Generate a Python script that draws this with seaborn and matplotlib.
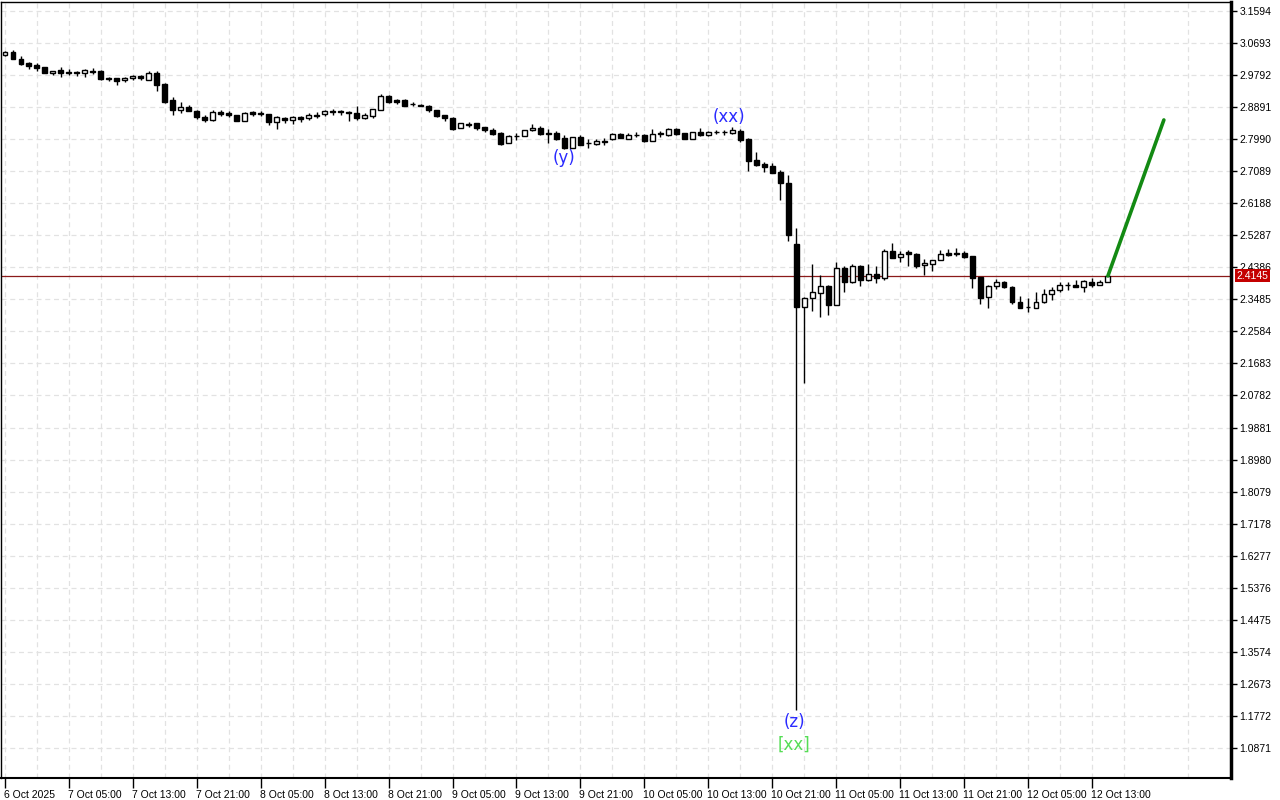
import numpy as np
import pandas as pd
import matplotlib
matplotlib.use("Agg")
import matplotlib.pyplot as plt
import matplotlib.transforms as mtransforms
import seaborn as sns

# ---------------- data (hourly candles, 6 Oct 21:00 -> 12 Oct 15:00) ----------------
opens = [3.036, 3.044, 3.024, 3.013, 3.008, 3.002, 2.985, 2.994, 2.988, 2.987,
         2.985, 2.991, 2.991, 2.971, 2.971, 2.964, 2.971, 2.977, 2.965, 2.985,
         2.954, 2.909, 2.881, 2.889, 2.878, 2.861, 2.853, 2.875, 2.872, 2.867,
         2.850, 2.875, 2.872, 2.870, 2.847, 2.858, 2.853, 2.861, 2.858, 2.868,
         2.870, 2.878, 2.877, 2.875, 2.872, 2.858, 2.864, 2.881, 2.920, 2.909,
         2.909, 2.898, 2.894, 2.892, 2.881, 2.867, 2.858, 2.830, 2.841, 2.844,
         2.833, 2.825, 2.816, 2.788, 2.807, 2.808, 2.825, 2.830, 2.816, 2.816,
         2.802, 2.774, 2.805, 2.788, 2.785, 2.792, 2.799, 2.813, 2.799, 2.811,
         2.811, 2.794, 2.813, 2.811, 2.827, 2.816, 2.799, 2.819, 2.811, 2.819,
         2.819, 2.816, 2.822, 2.799, 2.740, 2.729, 2.724, 2.707, 2.676, 2.504,
         2.327, 2.352, 2.366, 2.386, 2.333, 2.437, 2.397, 2.442, 2.403, 2.420,
         2.409, 2.484, 2.468, 2.482, 2.476, 2.445, 2.448, 2.459, 2.479, 2.479,
         2.479, 2.470, 2.411, 2.355, 2.386, 2.397, 2.383, 2.341, 2.327, 2.324,
         2.341, 2.364, 2.375, 2.389, 2.389, 2.383, 2.397, 2.389, 2.397]
highs = [3.047, 3.050, 3.033, 3.016, 3.013, 3.002, 2.991, 3.002, 2.996, 2.991,
         2.996, 2.999, 2.994, 2.974, 2.971, 2.974, 2.979, 2.979, 2.991, 2.991,
         2.957, 2.918, 2.904, 2.895, 2.881, 2.867, 2.881, 2.881, 2.878, 2.867,
         2.875, 2.878, 2.878, 2.870, 2.864, 2.861, 2.864, 2.864, 2.872, 2.875,
         2.881, 2.884, 2.881, 2.878, 2.892, 2.872, 2.884, 2.926, 2.923, 2.912,
         2.912, 2.904, 2.898, 2.895, 2.881, 2.867, 2.861, 2.844, 2.847, 2.844,
         2.833, 2.830, 2.819, 2.811, 2.816, 2.825, 2.841, 2.836, 2.827, 2.822,
         2.811, 2.805, 2.811, 2.799, 2.799, 2.802, 2.816, 2.816, 2.816, 2.819,
         2.813, 2.827, 2.822, 2.830, 2.830, 2.816, 2.819, 2.830, 2.822, 2.825,
         2.825, 2.833, 2.827, 2.802, 2.763, 2.735, 2.732, 2.712, 2.698, 2.549,
         2.355, 2.448, 2.417, 2.389, 2.454, 2.442, 2.448, 2.445, 2.448, 2.442,
         2.490, 2.507, 2.484, 2.487, 2.479, 2.462, 2.459, 2.487, 2.490, 2.493,
         2.484, 2.470, 2.411, 2.389, 2.406, 2.400, 2.386, 2.358, 2.352, 2.369,
         2.378, 2.383, 2.397, 2.397, 2.403, 2.403, 2.409, 2.403, 2.417]
lows = [3.033, 3.024, 3.008, 2.996, 2.991, 2.985, 2.979, 2.974, 2.979, 2.977,
        2.974, 2.982, 2.965, 2.963, 2.951, 2.960, 2.965, 2.965, 2.965, 2.935,
        2.901, 2.867, 2.872, 2.878, 2.856, 2.847, 2.850, 2.864, 2.861, 2.850,
        2.850, 2.864, 2.864, 2.839, 2.827, 2.844, 2.841, 2.847, 2.853, 2.858,
        2.864, 2.867, 2.867, 2.850, 2.853, 2.856, 2.858, 2.881, 2.901, 2.898,
        2.892, 2.892, 2.892, 2.875, 2.861, 2.850, 2.825, 2.830, 2.833, 2.825,
        2.819, 2.811, 2.782, 2.788, 2.796, 2.808, 2.822, 2.811, 2.788, 2.796,
        2.771, 2.774, 2.782, 2.774, 2.782, 2.782, 2.796, 2.802, 2.799, 2.805,
        2.791, 2.794, 2.805, 2.808, 2.811, 2.799, 2.799, 2.808, 2.808, 2.813,
        2.811, 2.813, 2.791, 2.709, 2.724, 2.707, 2.704, 2.628, 2.513, 1.194,
        2.113, 2.316, 2.299, 2.304, 2.333, 2.369, 2.394, 2.386, 2.400, 2.394,
        2.403, 2.465, 2.454, 2.442, 2.437, 2.417, 2.428, 2.459, 2.470, 2.470,
        2.465, 2.380, 2.335, 2.324, 2.378, 2.380, 2.335, 2.324, 2.313, 2.324,
        2.338, 2.347, 2.369, 2.375, 2.383, 2.369, 2.383, 2.389, 2.397]
closes = [3.044, 3.024, 3.010, 3.005, 2.999, 2.985, 2.991, 2.985, 2.984, 2.985,
          2.994, 2.988, 2.968, 2.967, 2.963, 2.971, 2.977, 2.970, 2.985, 2.951,
          2.904, 2.881, 2.889, 2.878, 2.861, 2.853, 2.875, 2.870, 2.867, 2.850,
          2.872, 2.870, 2.870, 2.847, 2.861, 2.853, 2.861, 2.857, 2.867, 2.865,
          2.878, 2.875, 2.875, 2.872, 2.858, 2.867, 2.884, 2.920, 2.904, 2.904,
          2.892, 2.897, 2.892, 2.881, 2.864, 2.858, 2.827, 2.844, 2.840, 2.830,
          2.825, 2.813, 2.785, 2.808, 2.808, 2.825, 2.830, 2.813, 2.813, 2.799,
          2.774, 2.805, 2.782, 2.787, 2.794, 2.794, 2.813, 2.802, 2.811, 2.812,
          2.794, 2.813, 2.815, 2.827, 2.813, 2.799, 2.819, 2.811, 2.819, 2.818,
          2.818, 2.825, 2.796, 2.738, 2.726, 2.721, 2.704, 2.676, 2.529, 2.327,
          2.352, 2.369, 2.386, 2.333, 2.437, 2.397, 2.442, 2.403, 2.420, 2.409,
          2.484, 2.465, 2.476, 2.476, 2.442, 2.451, 2.459, 2.476, 2.473, 2.475,
          2.468, 2.409, 2.352, 2.386, 2.397, 2.383, 2.341, 2.324, 2.326, 2.341,
          2.364, 2.375, 2.389, 2.388, 2.383, 2.400, 2.389, 2.397, 2.4145]

time_labels = ["6 Oct 2025", "7 Oct 05:00", "7 Oct 13:00", "7 Oct 21:00",
               "8 Oct 05:00", "8 Oct 13:00", "8 Oct 21:00", "9 Oct 05:00",
               "9 Oct 13:00", "9 Oct 21:00", "10 Oct 05:00", "10 Oct 13:00",
               "10 Oct 21:00", "11 Oct 05:00", "11 Oct 13:00", "11 Oct 21:00",
               "12 Oct 05:00", "12 Oct 13:00"]
price_ticks = [3.1594, 3.0693, 2.9792, 2.8891, 2.7990, 2.7089, 2.6188, 2.5287,
               2.4386, 2.3485, 2.2584, 2.1683, 2.0782, 1.9881, 1.8980, 1.8079,
               1.7178, 1.6277, 1.5376, 1.4475, 1.3574, 1.2673, 1.1772, 1.0871]
current_price = 2.4145

# projected move (bar index, price)
proj_bars = [138, 145]
proj_prices = [2.4145, 2.853]

# wave labels (bar index, price, text, colour)
wave_bar = [70.0, 90.6, 98.75, 98.75]
wave_price = [2.746, 2.861, 1.160, 1.095]
wave_text = ["(y)", "(xx)", "(z)", "[xx]"]
wave_color = ["#2a2aff", "#2a2aff", "#2a2aff", "#55dd55"]

# ---------------- drawing ----------------
sns.set_theme(style="white")
plt.rcParams['font.family'] = ['Liberation Sans', 'DejaVu Sans']

df = pd.DataFrame({"o": opens, "h": highs, "l": lows, "c": closes})
df["i"] = np.arange(len(df))

fig = plt.figure(figsize=(12.8, 8), dpi=100)
fig.patch.set_facecolor("white")
ax = fig.add_axes([1 / 1280, 22 / 800, 1230 / 1280, 776 / 800])
ax.set_facecolor("white")

# wicks
ax.vlines(df["i"], df["l"], df["h"], color="black", linewidth=1.0, zorder=3)
# bodies
up = df["c"] >= df["o"]
bottoms = np.minimum(df["o"], df["c"])
heights = np.maximum(np.abs(df["c"] - df["o"]), 0.0004)
ax.bar(df["i"], heights, bottom=bottoms, width=0.62,
       color=np.where(up, "white", "black"), edgecolor="black",
       linewidth=1.0, zorder=4)

# projection line
proj = pd.DataFrame({"bar": proj_bars, "price": proj_prices})
sns.lineplot(data=proj, x="bar", y="price", ax=ax, color="#138a13",
             linewidth=2.6, zorder=5, legend=False)

# current price line
ax.axhline(current_price, color="#8b1a1a", linewidth=0.9, zorder=2)

# wave labels
for b, p, t, col in zip(wave_bar, wave_price, wave_text, wave_color):
    ax.text(b, p, t, color=col, fontsize=12, ha="center", va="center", zorder=6,
            family=["DejaVu Sans"])

# axes limits
ax.set_xlim(-0.5, 153.4)
ax.set_ylim(1.0025, 3.1847)

# y axis on right
ax.yaxis.tick_right()
ax.set_yticks(price_ticks)
ax.set_yticklabels([f"{v:.4f}" for v in price_ticks])
ax.tick_params(axis="y", direction="out", length=4, width=1, pad=2,
               labelsize=7.5, colors="black", right=True, left=False)

# x axis
major = list(range(0, len(df), 8))
ax.set_xticks(major)
ax.set_xticklabels(time_labels, ha="left")
ax.set_xticks(list(range(4, len(df) + 16, 8)), minor=True)
ax.tick_params(axis="x", which="major", direction="out", length=7, width=1,
               pad=2, labelsize=7.5, colors="black", bottom=True)
ax.tick_params(axis="x", which="minor", length=0)
for lbl in ax.get_xticklabels():
    lbl.set_transform(lbl.get_transform() + mtransforms.ScaledTranslation(-1 / 100, 0, fig.dpi_scale_trans))

# grid
ax.grid(True, which="both", axis="x", color="#e2e2e2", linestyle=(0, (4, 3)), linewidth=0.9, zorder=0)
ax.grid(True, which="major", axis="y", color="#e2e2e2", linestyle=(0, (4, 3)), linewidth=0.9, zorder=0)
ax.set_axisbelow(True)

# spines
for s in ["left", "top"]:
    ax.spines[s].set_color("black")
    ax.spines[s].set_linewidth(1.0)
ax.spines["right"].set_color("black")
ax.spines["right"].set_linewidth(2.5)
ax.spines["bottom"].set_color("black")
ax.spines["bottom"].set_linewidth(1.5)

ax.set_xlabel("")
ax.set_ylabel("")

# current price tag on the price scale
trans = mtransforms.blended_transform_factory(ax.transAxes, ax.transData)
ax.text(1.0045, current_price, f"{current_price:.4f}", transform=trans,
        fontsize=7.5, color="white", ha="left", va="center", zorder=10,
        bbox=dict(boxstyle="square,pad=0.15", facecolor="#c40000", edgecolor="none"),
        clip_on=False)

fig.savefig("out.png", dpi=100, facecolor="white")
